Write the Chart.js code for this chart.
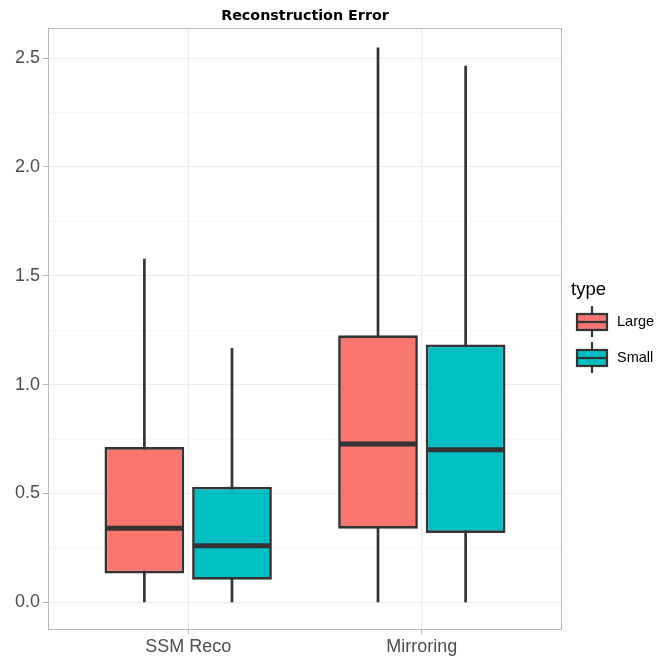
<!DOCTYPE html>
<html>
<head>
<meta charset="utf-8">
<script src="https://cdn.jsdelivr.net/npm/chart.js@4.4.1/dist/chart.umd.min.js"></script>
<style>
  html, body { margin: 0; padding: 0; background: #fff; }
</style>
</head>
<body>
<canvas id="chart" width="667" height="656"></canvas>
<script>
// data
const categories = ['SSM Reco', 'Mirroring'];
const types = ['Large', 'Small'];
const largeMin = [0, 0];
const largeQ1 = [0.133, 0.338];
const largeMedian = [0.340, 0.727];
const largeQ3 = [0.713, 1.227];
const largeMax = [1.578, 2.549];
const smallMin = [0, 0];
const smallQ1 = [0.104, 0.319];
const smallMedian = [0.260, 0.701];
const smallQ3 = [0.531, 1.184];
const smallMax = [1.168, 2.465];
const yTicks = [0, 0.5, 1, 1.5, 2, 2.5];

const colors = { Large: '#F8766D', Small: '#00BFC4' };
const outline = '#333333';
const gridMajor = '#EBEBEB';
const gridMinor = '#F3F3F3';

const isMajor = v => yTicks.some(t => Math.abs(t - v) < 1e-6);

function makeDataset(label, q1, q3, med, lo, hi) {
    return {
        label: label,
        data: categories.map((c, i) => ({ x: i + 1, y: [q1[i], q3[i]] })),
        stats: { min: lo, max: hi, median: med },
        backgroundColor: colors[label],
        borderColor: outline,
        borderWidth: 2.7,
        borderSkipped: false,
        categoryPercentage: 0.75,
        barPercentage: 0.91
    };
}

const boxPlot = {
    id: 'boxPlot',
    beforeDatasetsDraw(chart) {
        const ctx = chart.ctx, y = chart.scales.y;
        ctx.save();
        ctx.strokeStyle = outline;
        ctx.lineWidth = 2.7;
        chart.data.datasets.forEach((ds, d) => {
            chart.getDatasetMeta(d).data.forEach((bar, i) => {
                ctx.beginPath();
                ctx.moveTo(bar.x, y.getPixelForValue(ds.stats.min[i]));
                ctx.lineTo(bar.x, y.getPixelForValue(ds.stats.max[i]));
                ctx.stroke();
            });
        });
        ctx.restore();
    },
    afterDatasetsDraw(chart) {
        const ctx = chart.ctx, y = chart.scales.y;
        ctx.save();
        ctx.strokeStyle = outline;
        ctx.lineWidth = 5;
        chart.data.datasets.forEach((ds, d) => {
            chart.getDatasetMeta(d).data.forEach((bar, i) => {
                const py = y.getPixelForValue(ds.stats.median[i]);
                ctx.beginPath();
                ctx.moveTo(bar.x - bar.width / 2 + 1, py);
                ctx.lineTo(bar.x + bar.width / 2 - 1, py);
                ctx.stroke();
            });
        });
        ctx.restore();
    },
    afterDraw(chart) {
        const ctx = chart.ctx, area = chart.chartArea;
        ctx.save();
        // panel border
        ctx.strokeStyle = '#B8B8B8';
        ctx.lineWidth = 1;
        ctx.strokeRect(area.left + 0.5, area.top + 0.5, area.right - area.left - 1, area.bottom - area.top - 1);

        // title, centred over the panel
        ctx.fillStyle = '#000';
        ctx.font = 'bold 14.3px "DejaVu Sans"';
        ctx.textAlign = 'center';
        ctx.textBaseline = 'middle';
        ctx.fillText('Reconstruction Error', (area.left + area.right) / 2, 16);

        // legend
        const lx = area.right + 9;
        ctx.textAlign = 'left';
        ctx.textBaseline = 'alphabetic';
        ctx.fillStyle = '#000';
        ctx.font = '18.5px "Liberation Sans"';
        ctx.fillText('type', lx, 295);
        types.forEach((t, k) => {
            const cy = 322 + k * 36;
            const cx = lx + 21;
            ctx.strokeStyle = outline;
            ctx.lineWidth = 2.2;
            ctx.beginPath();
            ctx.moveTo(cx, cy - 16);
            ctx.lineTo(cx, cy + 15);
            ctx.stroke();
            ctx.fillStyle = colors[t];
            ctx.fillRect(cx - 15, cy - 8, 30, 16);
            ctx.strokeRect(cx - 15, cy - 8, 30, 16);
            ctx.beginPath();
            ctx.moveTo(cx - 15, cy);
            ctx.lineTo(cx + 15, cy);
            ctx.stroke();
            ctx.fillStyle = '#000';
            ctx.font = '14.5px "Liberation Sans"';
            ctx.textBaseline = 'middle';
            ctx.fillText(t, lx + 46, cy);
            ctx.textBaseline = 'alphabetic';
        });
        ctx.restore();
    }
};

new Chart(document.getElementById('chart'), {
    type: 'bar',
    data: {
        datasets: [
            makeDataset('Large', largeQ1, largeQ3, largeMedian, largeMin, largeMax),
            makeDataset('Small', smallQ1, smallQ3, smallMedian, smallMin, smallMax)
        ]
    },
    options: {
        responsive: false,
        animation: false,
        layout: { padding: { top: 28, right: 105, left: 0, bottom: 0 } },
        plugins: {
            legend: { display: false },
            title: { display: false },
            tooltip: { enabled: false }
        },
        scales: {
            x: {
                type: 'linear',
                min: 0.4,
                max: 2.6,
                offset: false,
                afterBuildTicks: s => { s.ticks = categories.map((c, i) => ({ value: i + 1 })); },
                afterFit: s => { s.height = 26; },
                border: { display: false },
                grid: { offset: false, color: gridMajor, lineWidth: 1, tickLength: 4, tickColor: '#B8B8B8' },
                ticks: {
                    autoSkip: false,
                    maxRotation: 0,
                    padding: 2,
                    color: '#4D4D4D',
                    font: { family: 'Liberation Sans', size: 18 },
                    callback: v => categories[Math.round(v) - 1]
                }
            },
            y: {
                min: -0.127,
                max: 2.638,
                afterFit: s => { s.width = 48; },
                border: { display: false },
                grid: {
                    color: c => isMajor(c.tick.value) ? gridMajor : gridMinor,
                    lineWidth: c => isMajor(c.tick.value) ? 1 : 0.7,
                    tickLength: 5,
                    tickColor: c => isMajor(c.tick.value) ? '#B8B8B8' : 'rgba(0,0,0,0)'
                },
                ticks: {
                    stepSize: 0.25,
                    includeBounds: false,
                    autoSkip: false,
                    padding: 3,
                    color: '#4D4D4D',
                    font: { family: 'Liberation Sans', size: 18 },
                    callback: v => isMajor(v) ? v.toFixed(1) : ''
                }
            }
        }
    },
    plugins: [boxPlot]
});
</script>
</body>
</html>
